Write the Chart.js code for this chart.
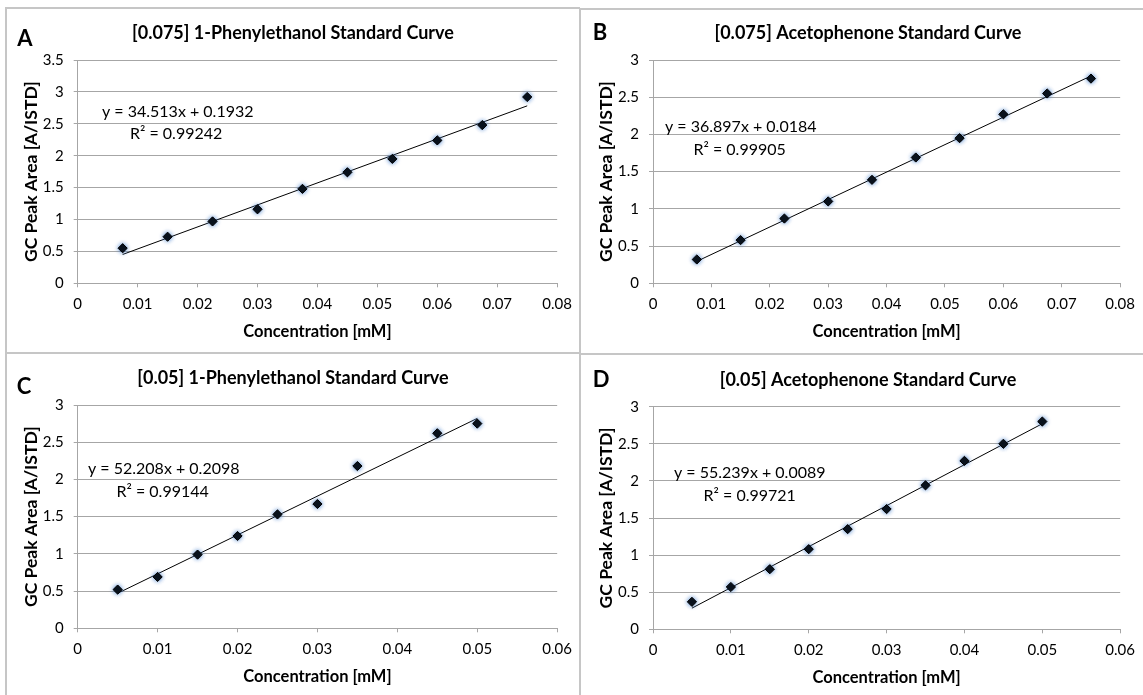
<!DOCTYPE html>
<html>
<head>
<meta charset="utf-8">
<script src="https://cdn.jsdelivr.net/npm/chart.js@4.4.1/dist/chart.umd.min.js"></script>
<style>
  html, body { margin: 0; padding: 0; background: #fff; }
  #page { position: relative; width: 1143px; height: 695px; overflow: hidden; background: #fff; }
  .pane { position: absolute; }
  .rule { position: absolute; background: #c6c6c6; }
</style>
</head>
<body>
<div id="page">
  <div class="rule" style="left:5px;top:7px;width:575px;height:2px"></div>
  <div class="rule" style="left:580px;top:8px;width:563px;height:2px"></div>
  <div class="rule" style="left:5px;top:7px;width:2px;height:688px"></div>
  <div class="rule" style="left:579px;top:8px;width:2px;height:687px"></div>
  <div class="rule" style="left:5px;top:352px;width:575px;height:2px"></div>
  <div class="rule" style="left:580px;top:353px;width:563px;height:2px"></div>
  <canvas id="chartA" class="pane" style="left:0;top:0" width="580" height="353"></canvas>
  <canvas id="chartB" class="pane" style="left:580px;top:0" width="563" height="353"></canvas>
  <canvas id="chartC" class="pane" style="left:0;top:353px" width="580" height="342"></canvas>
  <canvas id="chartD" class="pane" style="left:580px;top:353px" width="563" height="342"></canvas>
</div>
<script>
// ---- measured standards ----
const concA = [0.0075, 0.015, 0.0225, 0.03, 0.0375, 0.045, 0.0525, 0.06, 0.0675, 0.075];
const areaA = [0.55, 0.73, 0.97, 1.16, 1.48, 1.74, 1.95, 2.24, 2.48, 2.92];

const concB = [0.0075, 0.015, 0.0225, 0.03, 0.0375, 0.045, 0.0525, 0.06, 0.0675, 0.075];
const areaB = [0.32, 0.58, 0.87, 1.10, 1.39, 1.69, 1.95, 2.27, 2.55, 2.75];

const concC = [0.005, 0.01, 0.015, 0.02, 0.025, 0.03, 0.035, 0.045, 0.05];
const areaC = [0.52, 0.69, 0.99, 1.24, 1.53, 1.67, 2.18, 2.62, 2.75];

const concD = [0.005, 0.01, 0.015, 0.02, 0.025, 0.03, 0.035, 0.04, 0.045, 0.05];
const areaD = [0.37, 0.57, 0.81, 1.08, 1.35, 1.62, 1.94, 2.27, 2.50, 2.80];

// ---- linear fits (slope, intercept, R²) ----
const fitSlope = [34.513, 36.897, 52.208, 55.239];
const fitIntercept = [0.1932, 0.0184, 0.2098, 0.0089];
const fitR2 = ['0.99242', '0.99905', '0.99144', '0.99721'];

// ---- text ----
const panelLetters = ['A', 'B', 'C', 'D'];
const panelTitles = [
  '[0.075] 1-Phenylethanol Standard Curve',
  '[0.075] Acetophenone Standard Curve',
  '[0.05] 1-Phenylethanol Standard Curve',
  '[0.05] Acetophenone Standard Curve'
];
const xAxisTitle = 'Concentration [mM]';
const yAxisTitle = 'GC Peak Area [A/ISTD]';

// ---- tick labels ----
const xTicks075 = ['0', '0.01', '0.02', '0.03', '0.04', '0.05', '0.06', '0.07', '0.08'];
const xTicks05 = ['0', '0.01', '0.02', '0.03', '0.04', '0.05', '0.06'];
const yTicks35 = ['0', '0.5', '1', '1.5', '2', '2.5', '3', '3.5'];
const yTicks3 = ['0', '0.5', '1', '1.5', '2', '2.5', '3'];

const FONT = 'Lato, "Liberation Sans", sans-serif';
const GRID = '#a6a6a6';

// Writes the panel letter, chart title and trendline equation onto the canvas
const panelText = {
  id: 'panelText',
  afterDraw(chart, args, o) {
    const ctx = chart.ctx;
    ctx.save();
    ctx.fillStyle = '#000';
    ctx.textBaseline = 'middle';
    ctx.textAlign = 'center';
    ctx.font = 'bold 22px ' + FONT;
    ctx.fillText(o.letter, o.letterPos[0], o.letterPos[1]);
    ctx.font = 'bold 18px ' + FONT;
    ctx.fillText(o.title, o.titlePos[0], o.titlePos[1]);
    ctx.textAlign = 'left';
    ctx.font = '16px ' + FONT;
    ctx.fillText(o.eq, o.eqPos[0], o.eqPos[1]);
    ctx.fillText(o.r2, o.r2Pos[0], o.r2Pos[1]);
    ctx.restore();
  }
};

// Soft blue halo behind the diamond markers
const markerGlow = {
  id: 'markerGlow',
  beforeDatasetDraw(chart, args) {
    if (args.index !== 0) return;
    const c = chart.ctx;
    c.save();
    c.shadowColor = 'rgba(60,120,200,0.9)';
    c.shadowBlur = 4;
  },
  afterDatasetDraw(chart, args) {
    if (args.index === 0) chart.ctx.restore();
  }
};

function buildChart(id, i, conc, area, xLabels, yLabels, plot, text) {
  const m = fitSlope[i], b = fitIntercept[i];
  const lo = Math.min(...conc), hi = Math.max(...conc);
  const points = conc.map((x, k) => ({ x, y: area[k] }));
  const trend = [{ x: lo, y: m * lo + b }, { x: hi, y: m * hi + b }];
  const padding = { left: 0, right: 0, top: 0, bottom: 0 };
  const tickFont = { family: FONT, size: 15 };

  const chart = new Chart(document.getElementById(id), {
    type: 'scatter',
    data: {
      datasets: [
        {
          data: points,
          pointStyle: 'rectRot',
          pointRadius: 4.6,
          backgroundColor: '#000',
          borderColor: '#000',
          borderWidth: 1
        },
        {
          type: 'line',
          data: trend,
          borderColor: '#000',
          borderWidth: 1,
          pointRadius: 0,
          fill: false
        }
      ]
    },
    options: {
      responsive: false,
      maintainAspectRatio: false,
      animation: false,
      layout: { padding },
      plugins: {
        legend: { display: false },
        tooltip: { enabled: false },
        panelText: {
          letter: panelLetters[i],
          title: panelTitles[i],
          eq: 'y = ' + m + 'x + ' + b,
          r2: 'R² = ' + fitR2[i],
          ...text
        }
      },
      scales: {
        x: {
          type: 'linear',
          min: parseFloat(xLabels[0]),
          max: parseFloat(xLabels[xLabels.length - 1]),
          afterBuildTicks: s => { s.ticks = xLabels.map(t => ({ value: parseFloat(t) })); },
          afterFit: s => { s.height = 58; },
          ticks: {
            callback: (v, k) => xLabels[k],
            font: tickFont, color: '#000', padding: 8,
            maxRotation: 0, autoSkip: false
          },
          grid: { drawOnChartArea: false, drawTicks: true, tickLength: 4, color: GRID },
          border: { display: true, color: GRID },
          title: { display: true, text: xAxisTitle, font: { family: FONT, size: 16.5, weight: 'bold' }, color: '#000', padding: 0 }
        },
        y: {
          type: 'linear',
          min: parseFloat(yLabels[0]),
          max: parseFloat(yLabels[yLabels.length - 1]),
          afterBuildTicks: s => { s.ticks = yLabels.map(t => ({ value: parseFloat(t) })); },
          afterFit: s => { s.width = 57; },
          ticks: {
            callback: (v, k) => yLabels[k],
            font: tickFont, color: '#000', padding: 10, autoSkip: false
          },
          grid: { drawOnChartArea: true, drawTicks: true, tickLength: 4, color: GRID },
          border: { display: true, color: GRID },
          title: { display: true, text: yAxisTitle, font: { family: FONT, size: 17.5, weight: 'bold' }, color: '#000', padding: 0 }
        }
      }
    },
    plugins: [panelText, markerGlow]
  });

  // settle the plot rectangle on the requested bounds
  for (let k = 0; k < 3; k++) {
    const a = chart.chartArea;
    padding.left += plot.left - a.left;
    padding.top += plot.top - a.top;
    padding.right += a.right - plot.right;
    padding.bottom += a.bottom - plot.bottom;
    chart.update('none');
  }
  return chart;
}

buildChart('chartA', 0, concA, areaA, xTicks075, yTicks35,
  { left: 77.7, right: 555, top: 60, bottom: 283.3 },
  { letterPos: [25, 39], titlePos: [293, 33], eqPos: [102, 112], r2Pos: [130, 134] });

buildChart('chartB', 1, concB, areaB, xTicks075, yTicks3,
  { left: 73, right: 549, top: 60, bottom: 283.3 },
  { letterPos: [20, 33], titlePos: [288, 33], eqPos: [85, 127], r2Pos: [113.5, 150] });

buildChart('chartC', 2, concC, areaC, xTicks05, yTicks3,
  { left: 77.7, right: 555, top: 52, bottom: 275.3 },
  { letterPos: [24, 34], titlePos: [293, 25], eqPos: [88, 116], r2Pos: [116.5, 139] });

buildChart('chartD', 3, concD, areaD, xTicks05, yTicks3,
  { left: 73, right: 550, top: 53.7, bottom: 276.3 },
  { letterPos: [21, 27], titlePos: [288, 27], eqPos: [94, 119.7], r2Pos: [123.6, 142.7] });
</script>
</body>
</html>
